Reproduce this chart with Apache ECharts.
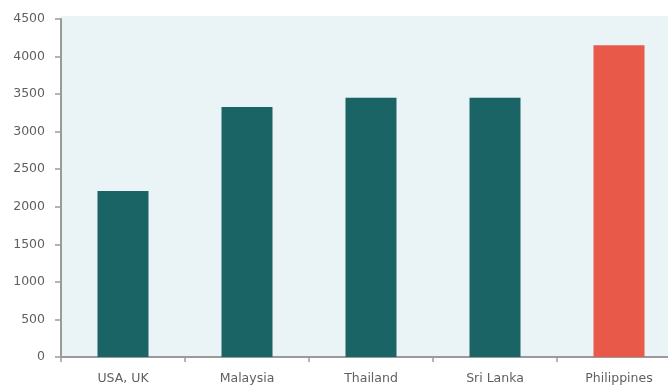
<!DOCTYPE html>
<html><head><meta charset="utf-8">
<script src="https://cdn.jsdelivr.net/npm/echarts@6/dist/echarts.min.js"></script>
<style>html,body{margin:0;padding:0;background:#fff}#c{width:668px;height:385px}</style>
</head><body><div id="c"></div>
<script>
const categories = ['USA, UK', 'Malaysia', 'Thailand', 'Sri Lanka', 'Philippines'];
const values = [2210, 3330, 3450, 3450, 4150];
const highlight = [false, false, false, false, true];
const yTicks = [0, 500, 1000, 1500, 2000, 2500, 3000, 3500, 4000, 4500];

const chart = echarts.init(document.getElementById('c'), null, {renderer: 'canvas'});
const font = 'DejaVu Sans';
chart.setOption({
  animation: false,
  graphic: [{type: 'rect', left: 61, top: 16, z: -10, shape: {width: 607, height: 341}, style: {fill: '#EAF3F5'}}],
  grid: {left: 61, top: 19, width: 620, height: 338, containLabel: false, outerBoundsMode: 'none'},
  xAxis: {
    type: 'category', data: categories,
    axisLine: {lineStyle: {color: '#9a9a9a', width: 2}},
    axisTick: {show: true, length: 5, alignWithLabel: false, lineStyle: {color: '#9a9a9a', width: 1.5}},
    axisLabel: {color: '#5f5f5f', fontFamily: font, fontSize: 12.5, margin: 15}
  },
  yAxis: {
    type: 'value', min: yTicks[0], max: yTicks[yTicks.length - 1], interval: 500,
    axisLine: {show: true, lineStyle: {color: '#9a9a9a', width: 2}},
    axisTick: {show: true, length: 6, lineStyle: {color: '#9a9a9a', width: 1.5}},
    splitLine: {show: false},
    axisLabel: {color: '#5f5f5f', fontFamily: font, fontSize: 12.5, margin: 16, formatter: v => String(v)}
  },
  series: [{
    type: 'bar', barWidth: 51,
    data: values.map((v, i) => ({value: v, itemStyle: {color: highlight[i] ? '#E8594A' : '#1A6466'}}))
  }]
});
</script></body></html>
